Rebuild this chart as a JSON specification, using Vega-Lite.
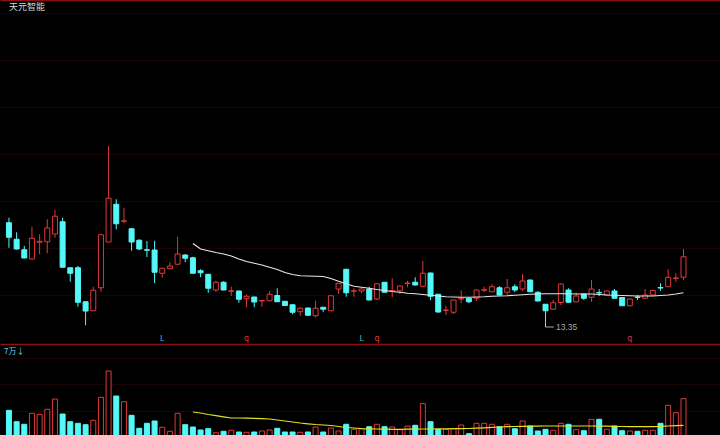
{
  "$schema": "https://vega.github.io/schema/vega-lite/v6.json",
  "background": "#000000",
  "padding": 0,
  "spacing": 0,
  "config": {
    "view": {"stroke": null},
    "text": {"font": "Noto Sans CJK SC"},
    "axis": {"labels": false, "ticks": false, "title": null}
  },
  "datasets": {
    "k": [
      {"i":0,"o":17.52,"h":17.72,"l":16.52,"c":16.94,"v":5.14},
      {"i":1,"o":16.86,"h":17.14,"l":16.45,"c":16.47,"v":2.86},
      {"i":2,"o":16.44,"h":16.59,"l":16.10,"c":16.11,"v":2.34},
      {"i":3,"o":16.07,"h":17.36,"l":16.05,"c":16.90,"v":4.54},
      {"i":4,"o":16.74,"h":17.06,"l":16.26,"c":16.78,"v":4.34},
      {"i":5,"o":16.76,"h":17.66,"l":16.30,"c":17.31,"v":5.34},
      {"i":6,"o":17.07,"h":18.03,"l":16.92,"c":17.78,"v":7.40},
      {"i":7,"o":17.56,"h":17.72,"l":15.73,"c":15.74,"v":4.40},
      {"i":8,"o":15.72,"h":15.73,"l":15.16,"c":15.50,"v":2.86},
      {"i":9,"o":15.72,"h":15.79,"l":14.16,"c":14.34,"v":2.54},
      {"i":10,"o":14.36,"h":14.37,"l":13.42,"c":13.99,"v":2.26},
      {"i":11,"o":14.00,"h":14.96,"l":13.99,"c":14.82,"v":3.14},
      {"i":12,"o":14.92,"h":17.05,"l":14.76,"c":17.04,"v":7.74},
      {"i":13,"o":16.75,"h":20.59,"l":16.74,"c":18.50,"v":13.00},
      {"i":14,"o":18.26,"h":18.46,"l":17.26,"c":17.48,"v":8.00},
      {"i":15,"o":17.58,"h":18.12,"l":17.50,"c":17.60,"v":6.86},
      {"i":16,"o":17.28,"h":17.31,"l":16.40,"c":16.75,"v":4.14},
      {"i":17,"o":16.82,"h":16.86,"l":16.43,"c":16.47,"v":1.54},
      {"i":18,"o":16.44,"h":16.79,"l":16.15,"c":16.42,"v":2.54},
      {"i":19,"o":16.43,"h":16.80,"l":15.10,"c":15.54,"v":3.00},
      {"i":20,"o":15.50,"h":15.71,"l":15.32,"c":15.70,"v":1.74},
      {"i":21,"o":15.68,"h":15.94,"l":15.68,"c":15.79,"v":0.94},
      {"i":22,"o":15.86,"h":16.96,"l":15.85,"c":16.27,"v":4.54},
      {"i":23,"o":16.23,"h":16.27,"l":15.94,"c":16.10,"v":2.26},
      {"i":24,"o":16.12,"h":16.16,"l":15.49,"c":15.50,"v":1.80,"ma":16.69,"vma":4.80},
      {"i":25,"o":15.60,"h":15.66,"l":15.34,"c":15.52,"v":1.20,"ma":16.47,"vma":4.60},
      {"i":26,"o":15.46,"h":15.47,"l":14.72,"c":14.90,"v":1.46,"ma":16.40,"vma":4.30},
      {"i":27,"o":14.83,"h":15.20,"l":14.75,"c":15.14,"v":0.66,"ma":16.33,"vma":4.06},
      {"i":28,"o":15.14,"h":15.18,"l":14.82,"c":14.83,"v":0.94,"ma":16.27,"vma":3.84},
      {"i":29,"o":14.78,"h":14.96,"l":14.59,"c":14.80,"v":1.14,"ma":16.19,"vma":3.60},
      {"i":30,"o":14.79,"h":14.80,"l":14.32,"c":14.46,"v":0.80,"ma":16.07,"vma":3.60},
      {"i":31,"o":14.48,"h":14.65,"l":14.14,"c":14.58,"v":0.74,"ma":15.97,"vma":3.56},
      {"i":32,"o":14.55,"h":14.56,"l":14.14,"c":14.35,"v":0.80,"ma":15.90,"vma":3.52},
      {"i":33,"o":14.39,"h":14.42,"l":14.16,"c":14.41,"v":1.00,"ma":15.83,"vma":3.48},
      {"i":34,"o":14.40,"h":14.78,"l":14.39,"c":14.66,"v":1.20,"ma":15.74,"vma":3.40},
      {"i":35,"o":14.61,"h":14.90,"l":14.35,"c":14.36,"v":1.54,"ma":15.65,"vma":3.20},
      {"i":36,"o":14.38,"h":14.39,"l":14.20,"c":14.21,"v":0.80,"ma":15.53,"vma":3.00},
      {"i":37,"o":14.24,"h":14.25,"l":13.86,"c":13.94,"v":0.80,"ma":15.45,"vma":2.80},
      {"i":38,"o":13.96,"h":14.14,"l":13.80,"c":14.10,"v":0.74,"ma":15.40,"vma":2.60},
      {"i":39,"o":14.11,"h":14.12,"l":13.81,"c":13.82,"v":0.80,"ma":15.39,"vma":2.44},
      {"i":40,"o":13.80,"h":14.40,"l":13.74,"c":14.10,"v":1.80,"ma":15.38,"vma":2.30},
      {"i":41,"o":14.14,"h":14.15,"l":13.94,"c":14.06,"v":0.80,"ma":15.37,"vma":2.20},
      {"i":42,"o":14.00,"h":14.61,"l":13.99,"c":14.60,"v":1.60,"ma":15.29,"vma":2.10},
      {"i":43,"o":14.87,"h":15.11,"l":14.67,"c":15.10,"v":1.00,"ma":15.18,"vma":1.90},
      {"i":44,"o":15.66,"h":15.67,"l":14.56,"c":14.72,"v":2.34,"ma":15.08,"vma":1.70},
      {"i":45,"o":14.78,"h":14.90,"l":14.56,"c":14.80,"v":1.34,"ma":14.98,"vma":1.60},
      {"i":46,"o":14.79,"h":14.90,"l":14.70,"c":14.87,"v":1.46,"ma":14.94,"vma":1.48},
      {"i":47,"o":14.87,"h":14.96,"l":14.42,"c":14.43,"v":1.86,"ma":14.90,"vma":1.44},
      {"i":48,"o":14.47,"h":15.09,"l":14.43,"c":15.08,"v":2.34,"ma":14.85,"vma":1.40},
      {"i":49,"o":15.14,"h":15.15,"l":14.73,"c":14.74,"v":1.86,"ma":14.81,"vma":1.36},
      {"i":50,"o":14.79,"h":15.30,"l":14.54,"c":14.81,"v":1.80,"ma":14.77,"vma":1.34},
      {"i":51,"o":14.80,"h":15.00,"l":14.67,"c":14.99,"v":1.26,"ma":14.74,"vma":1.34},
      {"i":52,"o":15.09,"h":15.20,"l":14.94,"c":15.11,"v":2.00,"ma":14.70,"vma":1.36},
      {"i":53,"o":15.14,"h":15.34,"l":15.02,"c":15.03,"v":2.14,"ma":14.68,"vma":1.38},
      {"i":54,"o":14.98,"h":15.99,"l":14.97,"c":15.50,"v":6.46,"ma":14.65,"vma":1.40},
      {"i":55,"o":15.51,"h":15.52,"l":14.43,"c":14.58,"v":2.86,"ma":14.62,"vma":1.40},
      {"i":56,"o":14.66,"h":14.67,"l":13.92,"c":13.95,"v":1.34,"ma":14.59,"vma":1.42},
      {"i":57,"o":14.01,"h":14.20,"l":13.83,"c":14.03,"v":1.34,"ma":14.56,"vma":1.44},
      {"i":58,"o":13.94,"h":14.44,"l":13.87,"c":14.43,"v":1.46,"ma":14.55,"vma":1.46},
      {"i":59,"o":14.47,"h":14.82,"l":14.30,"c":14.49,"v":2.20,"ma":14.54,"vma":1.48},
      {"i":60,"o":14.50,"h":14.51,"l":14.30,"c":14.36,"v":0.46,"ma":14.54,"vma":1.50},
      {"i":61,"o":14.50,"h":14.84,"l":14.39,"c":14.83,"v":2.54,"ma":14.55,"vma":1.56},
      {"i":62,"o":14.82,"h":14.96,"l":14.74,"c":14.84,"v":2.54,"ma":14.56,"vma":1.64},
      {"i":63,"o":14.76,"h":15.06,"l":14.75,"c":14.96,"v":2.34,"ma":14.58,"vma":1.72},
      {"i":64,"o":14.92,"h":14.98,"l":14.62,"c":14.63,"v":1.86,"ma":14.59,"vma":1.80},
      {"i":65,"o":14.74,"h":15.27,"l":14.63,"c":14.92,"v":2.34,"ma":14.60,"vma":1.86},
      {"i":66,"o":14.96,"h":15.06,"l":14.74,"c":14.83,"v":1.46,"ma":14.62,"vma":1.90},
      {"i":67,"o":14.87,"h":15.46,"l":14.79,"c":15.19,"v":3.00,"ma":14.64,"vma":1.94},
      {"i":68,"o":15.23,"h":15.24,"l":14.75,"c":14.76,"v":2.00,"ma":14.66,"vma":1.96},
      {"i":69,"o":14.74,"h":14.78,"l":14.38,"c":14.39,"v":1.00,"ma":14.67,"vma":1.98},
      {"i":70,"o":14.26,"h":14.27,"l":13.35,"c":14.00,"v":1.34,"ma":14.68,"vma":2.00},
      {"i":71,"o":14.06,"h":14.43,"l":14.05,"c":14.32,"v":1.14,"ma":14.68,"vma":2.00},
      {"i":72,"o":14.33,"h":15.08,"l":14.23,"c":15.07,"v":2.54,"ma":14.68,"vma":2.00},
      {"i":73,"o":14.83,"h":14.90,"l":14.33,"c":14.34,"v":2.34,"ma":14.68,"vma":2.00},
      {"i":74,"o":14.36,"h":14.72,"l":14.35,"c":14.59,"v":1.26,"ma":14.67,"vma":2.00},
      {"i":75,"o":14.67,"h":14.68,"l":14.43,"c":14.50,"v":1.06,"ma":14.67,"vma":2.00},
      {"i":76,"o":14.54,"h":15.23,"l":14.36,"c":14.87,"v":3.34,"ma":14.67,"vma":2.00},
      {"i":77,"o":14.73,"h":14.86,"l":14.59,"c":14.71,"v":3.34,"ma":14.65,"vma":1.98},
      {"i":78,"o":14.63,"h":14.80,"l":14.62,"c":14.79,"v":1.34,"ma":14.63,"vma":1.96},
      {"i":79,"o":14.79,"h":14.87,"l":14.49,"c":14.50,"v":2.00,"ma":14.62,"vma":1.94},
      {"i":80,"o":14.53,"h":14.54,"l":14.19,"c":14.20,"v":1.06,"ma":14.61,"vma":1.90},
      {"i":81,"o":14.20,"h":14.48,"l":14.19,"c":14.47,"v":1.00,"ma":14.60,"vma":1.88},
      {"i":82,"o":14.55,"h":14.63,"l":14.43,"c":14.53,"v":0.94,"ma":14.59,"vma":1.86},
      {"i":83,"o":14.50,"h":14.87,"l":14.49,"c":14.63,"v":1.14,"ma":14.59,"vma":1.86},
      {"i":84,"o":14.63,"h":14.82,"l":14.62,"c":14.81,"v":1.14,"ma":14.59,"vma":1.88},
      {"i":85,"o":14.93,"h":15.10,"l":14.80,"c":14.91,"v":2.54,"ma":14.61,"vma":1.92},
      {"i":86,"o":14.96,"h":15.66,"l":14.95,"c":15.34,"v":6.14,"ma":14.63,"vma":2.00},
      {"i":87,"o":15.29,"h":15.50,"l":15.16,"c":15.31,"v":4.66,"ma":14.67,"vma":2.06},
      {"i":88,"o":15.34,"h":16.47,"l":15.23,"c":16.16,"v":7.46,"ma":14.72,"vma":2.14}
    ],
    "sig": [
      {"i":20,"s":"L"},
      {"i":31,"s":"q"},
      {"i":46,"s":"L"},
      {"i":48,"s":"q"},
      {"i":81,"s":"q"}
    ]
  },
  "vconcat": [
    {
      "width": 720,
      "height": 343,
      "data": {"name": "k"},
      "encoding": {
        "x": {
          "field": "i", "type": "quantitative",
          "scale": {"domain": [-0.515, 92.11], "nice": false, "zero": false},
          "axis": {"orient": "top", "grid": false, "domain": true, "domainColor": "#8a1212", "domainWidth": 1.5}
        }
      },
      "layer": [
        {
          "mark": {"type": "rule", "strokeWidth": 1},
          "encoding": {
            "y": {
              "field": "l", "type": "quantitative",
              "scale": {"domain": [12.71, 26.43], "nice": false, "zero": false},
              "axis": {"orient": "left", "domain": false, "grid": true, "gridColor": "#1c0404", "gridWidth": 1, "values": [14.63, 16.51, 18.39, 20.27, 22.15, 24.03, 25.91]}
            },
            "y2": {"field": "h"},
            "color": {"condition": {"test": "datum.c < datum.o", "value": "#54f8f8"}, "value": "#e03838"}
          }
        },
        {
          "mark": {"type": "bar", "size": 5, "strokeWidth": 1, "orient": "vertical"},
          "encoding": {
            "y": {"field": "o", "type": "quantitative"},
            "y2": {"field": "c"},
            "fill": {"condition": {"test": "datum.c < datum.o", "value": "#54f8f8"}, "value": "#000000"},
            "stroke": {"condition": {"test": "datum.c < datum.o", "value": "#54f8f8"}, "value": "#e03838"}
          }
        },
        {
          "mark": {"type": "line", "color": "#e6e6e6", "strokeWidth": 1.2},
          "encoding": {"y": {"field": "ma", "type": "quantitative"}}
        },
        {
          "data": {"name": "sig"},
          "mark": {"type": "text", "fontSize": 8, "baseline": "middle", "align": "center"},
          "encoding": {
            "y": {"datum": 12.87},
            "text": {"field": "s"},
            "color": {"condition": {"test": "datum.s == 'L'", "value": "#40c0d8"}, "value": "#e03838"}
          }
        },
        {
          "data": {"values": [{"i": 70, "low": 13.35, "lab": "13.35"}]},
          "mark": {"type": "rule", "color": "#a8a8a8", "strokeWidth": 1},
          "encoding": {
            "y": {"field": "low", "type": "quantitative"},
            "x2": {"datum": 71.1}
          }
        },
        {
          "data": {"values": [{"i": 70, "low": 13.35, "lab": "13.35"}]},
          "mark": {"type": "text", "color": "#a8a8a8", "fontSize": 8.5, "align": "left", "baseline": "middle", "dx": 10.5, "font": "Liberation Sans"},
          "encoding": {
            "y": {"field": "low", "type": "quantitative"},
            "text": {"field": "lab"}
          }
        },
        {
          "data": {"values": [{"i": 0, "t": "天元智能"}]},
          "mark": {"type": "text", "color": "#d8d8d8", "fontSize": 9, "align": "left", "baseline": "middle"},
          "encoding": {
            "y": {"datum": 26.15},
            "text": {"field": "t"}
          }
        }
      ]
    },
    {
      "width": 720,
      "height": 92,
      "data": {"name": "k"},
      "encoding": {
        "x": {
          "field": "i", "type": "quantitative",
          "scale": {"domain": [-0.515, 92.11], "nice": false, "zero": false},
          "axis": {"orient": "top", "grid": false, "domain": true, "domainColor": "#8a1212", "domainWidth": 1.5}
        }
      },
      "layer": [
        {
          "mark": {"type": "bar", "size": 5, "strokeWidth": 1, "orient": "vertical"},
          "encoding": {
            "y": {
              "field": "v", "type": "quantitative",
              "scale": {"domain": [0, 18.4], "nice": false},
              "axis": {"orient": "left", "domain": false, "grid": true, "gridColor": "#1c0404", "gridWidth": 1, "values": [5.0, 10.3, 15.6]}
            },
            "y2": {"datum": 0},
            "fill": {"condition": {"test": "datum.c < datum.o", "value": "#54f8f8"}, "value": "#000000"},
            "stroke": {"condition": {"test": "datum.c < datum.o", "value": "#54f8f8"}, "value": "#e03838"}
          }
        },
        {
          "mark": {"type": "line", "color": "#e2e220", "strokeWidth": 1.2},
          "encoding": {"y": {"field": "vma", "type": "quantitative"}}
        },
        {
          "data": {"values": [{"i": -0.65, "t": "7万↓"}]},
          "mark": {"type": "text", "color": "#5cd6e6", "fontSize": 8, "align": "left", "baseline": "middle"},
          "encoding": {
            "y": {"datum": 16.8},
            "text": {"field": "t"}
          }
        }
      ]
    }
  ]
}
